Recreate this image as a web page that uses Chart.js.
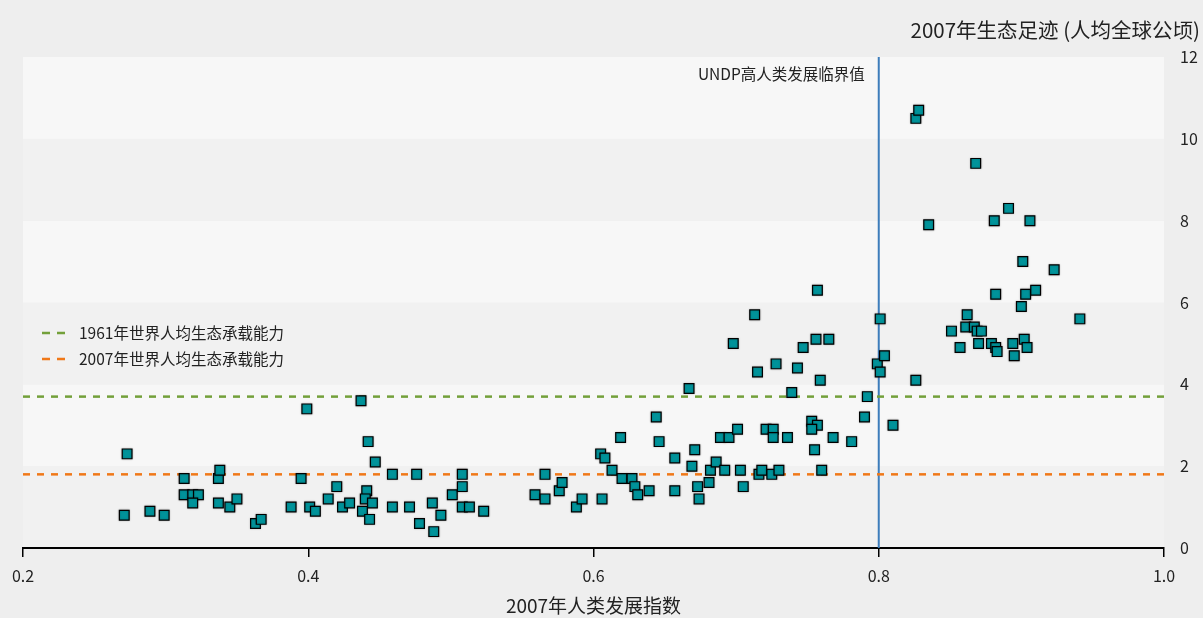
<!DOCTYPE html>
<html><head><meta charset="utf-8">
<script src="https://cdn.jsdelivr.net/npm/chart.js@4.4.1/dist/chart.umd.min.js"></script>
<style>html,body{margin:0;padding:0;background:#eeeeee;}#wrap{width:1203px;height:618px;}</style>
</head><body><div id="wrap"><canvas id="c" width="1203" height="618"></canvas></div>
<script>
const hdi = [0.271,0.273,0.289,0.299,0.313,0.313,0.319,0.323,0.319,0.337,0.338,0.337,0.345,0.350,0.363,0.367,0.388,0.395,0.399,0.401,0.405,0.414,0.420,0.424,0.429,0.437,0.442,0.447,0.441,0.440,0.445,0.438,0.443,0.459,0.459,0.471,0.476,0.478,0.487,0.488,0.493,0.501,0.508,0.508,0.508,0.513,0.523,0.559,0.566,0.566,0.576,0.578,0.588,0.592,0.606,0.605,0.608,0.613,0.619,0.620,0.627,0.629,0.631,0.639,0.644,0.646,0.657,0.657,0.667,0.669,0.671,0.673,0.674,0.681,0.682,0.686,0.689,0.695,0.692,0.701,0.703,0.705,0.698,0.713,0.715,0.716,0.718,0.721,0.726,0.726,0.725,0.730,0.728,0.736,0.739,0.743,0.747,0.753,0.757,0.753,0.755,0.756,0.757,0.759,0.760,0.765,0.768,0.781,0.790,0.792,0.799,0.801,0.801,0.804,0.810,0.826,0.826,0.828,0.835,0.851,0.857,0.861,0.862,0.867,0.868,0.869,0.872,0.870,0.879,0.881,0.882,0.882,0.883,0.891,0.894,0.895,0.900,0.901,0.902,0.903,0.904,0.906,0.910,0.923,0.941];
const footprint = [0.8,2.3,0.9,0.8,1.7,1.3,1.3,1.3,1.1,1.7,1.9,1.1,1.0,1.2,0.6,0.7,1.0,1.7,3.4,1.0,0.9,1.2,1.5,1.0,1.1,3.6,2.6,2.1,1.4,1.2,1.1,0.9,0.7,1.8,1.0,1.0,1.8,0.6,1.1,0.4,0.8,1.3,1.5,1.8,1.0,1.0,0.9,1.3,1.2,1.8,1.4,1.6,1.0,1.2,1.2,2.3,2.2,1.9,2.7,1.7,1.7,1.5,1.3,1.4,3.2,2.6,2.2,1.4,3.9,2.0,2.4,1.5,1.2,1.6,1.9,2.1,2.7,2.7,1.9,2.9,1.9,1.5,5.0,5.7,4.3,1.8,1.9,2.9,2.9,2.7,1.8,1.9,4.5,2.7,3.8,4.4,4.9,3.1,3.0,2.9,2.4,5.1,6.3,4.1,1.9,5.1,2.7,2.6,3.2,3.7,4.5,4.3,5.6,4.7,3.0,4.1,10.5,10.7,7.9,5.3,4.9,5.4,5.7,5.4,9.4,5.3,5.3,5.0,5.0,8.0,6.2,4.9,4.8,8.3,5.0,4.7,5.9,7.0,5.1,6.2,4.9,8.0,6.3,6.8,5.6];
const xTicks = [0.2, 0.4, 0.6, 0.8, 1.0];
const yTicks = [0, 2, 4, 6, 8, 10, 12];
const biocap1961 = 3.7;
const biocap2007 = 1.8;
const hdiThreshold = 0.8;
const legendLabels = ['1961年世界人均生态承载能力', '2007年世界人均生态承载能力'];
const thresholdLabel = 'UNDP高人类发展临界值';
const yTitle = '2007年生态足迹 (人均全球公顷)';
const xTitle = '2007年人类发展指数';

const FONT = '"Noto Sans CJK SC", "Noto Sans", sans-serif';
const GREEN = '#73a03a', ORANGE = '#f07818', BLUE = '#3d7dbb', TEAL = '#00939a';

const points = hdi.map((v, i) => ({x: v, y: footprint[i]}));

const decor = {
  id: 'decor',
  beforeDraw(chart) {
    const {ctx, chartArea: a, scales: {y}} = chart;
    ctx.save();
    ctx.fillStyle = '#eeeeee';
    ctx.fillRect(0, 0, chart.width, chart.height);
    for (let i = 0; i < yTicks.length - 1; i++) {
      const y0 = y.getPixelForValue(yTicks[i]), y1 = y.getPixelForValue(yTicks[i + 1]);
      ctx.fillStyle = i % 2 === 0 ? '#f1f1f1' : '#f7f7f7';
      ctx.fillRect(a.left, y1, a.right - a.left, y0 - y1);
    }
    ctx.restore();
  },
  beforeDatasetDraw(chart, args) {
    if (args.index === 0) {
      const ctx = chart.ctx;
      ctx.save();
      ctx.shadowColor = 'rgba(0,0,0,0.25)';
      ctx.shadowBlur = 2;
    }
  },
  afterDatasetDraw(chart, args) {
    if (args.index === 0) chart.ctx.restore();
  },
  afterDraw(chart) {
    const {ctx, chartArea: a, scales: {x}} = chart;
    ctx.save();
    ctx.fillStyle = '#222';
    ctx.textBaseline = 'middle';
    ctx.font = '20.5px ' + FONT;
    ctx.textAlign = 'right';
    ctx.fillText(yTitle, 1200, 30);
    ctx.font = '19px ' + FONT;
    ctx.textAlign = 'center';
    ctx.fillText(xTitle, (a.left + a.right) / 2, 606);
    ctx.font = '15.5px ' + FONT;
    ctx.textAlign = 'right';
    ctx.fillText(thresholdLabel, x.getPixelForValue(hdiThreshold) - 14, 74);
    const cols = [GREEN, ORANGE], ys = [333, 359];
    ctx.textAlign = 'left';
    for (let i = 0; i < 2; i++) {
      ctx.strokeStyle = cols[i];
      ctx.lineWidth = 2.5;
      ctx.setLineDash([8, 7]);
      ctx.beginPath();
      ctx.moveTo(42, ys[i]);
      ctx.lineTo(66, ys[i]);
      ctx.stroke();
      ctx.fillText(legendLabels[i], 79, ys[i]);
    }
    ctx.restore();
  }
};

new Chart(document.getElementById('c'), {
  type: 'scatter',
  data: {
    datasets: [
      {data: points, pointStyle: 'rect', pointRadius: 6.9, pointHoverRadius: 6.9,
       backgroundColor: TEAL, borderColor: '#000', borderWidth: 1.2, order: 0},
      {type: 'line', data: [{x: xTicks[0], y: biocap1961}, {x: xTicks[xTicks.length - 1], y: biocap1961}],
       borderColor: GREEN, borderWidth: 2.5, borderDash: [7, 7], pointRadius: 0, order: 1},
      {type: 'line', data: [{x: xTicks[0], y: biocap2007}, {x: xTicks[xTicks.length - 1], y: biocap2007}],
       borderColor: ORANGE, borderWidth: 2.5, borderDash: [7, 7], pointRadius: 0, order: 1},
      {type: 'line', data: [{x: hdiThreshold, y: yTicks[0]}, {x: hdiThreshold, y: yTicks[yTicks.length - 1]}],
       borderColor: BLUE, borderWidth: 2, pointRadius: 0, order: 1}
    ]
  },
  options: {
    responsive: false,
    animation: false,
    events: [],
    layout: {padding: {left: 23, top: 57, right: 0, bottom: 0}},
    plugins: {legend: {display: false}, tooltip: {enabled: false}},
    scales: {
      x: {
        type: 'linear', position: 'bottom', min: xTicks[0], max: xTicks[xTicks.length - 1],
        afterBuildTicks: s => { s.ticks = xTicks.map(v => ({value: v})); },
        ticks: {callback: v => Number(v).toFixed(1), font: {family: FONT, size: 16}, color: '#222',
                padding: 9, maxRotation: 0, autoSkip: false},
        grid: {drawOnChartArea: false, drawTicks: true, tickLength: 9, color: '#000', lineWidth: 1.5},
        border: {display: true, color: '#000', width: 2},
        afterFit: s => { s.height = 70; }
      },
      y: {
        type: 'linear', position: 'right', min: yTicks[0], max: yTicks[yTicks.length - 1],
        afterBuildTicks: s => { s.ticks = yTicks.map(v => ({value: v})); },
        ticks: {font: {family: FONT, size: 16}, color: '#222', padding: 8},
        grid: {display: false}, border: {display: false},
        afterFit: s => { s.width = 39; }
      }
    }
  },
  plugins: [decor]
});
</script></body></html>
